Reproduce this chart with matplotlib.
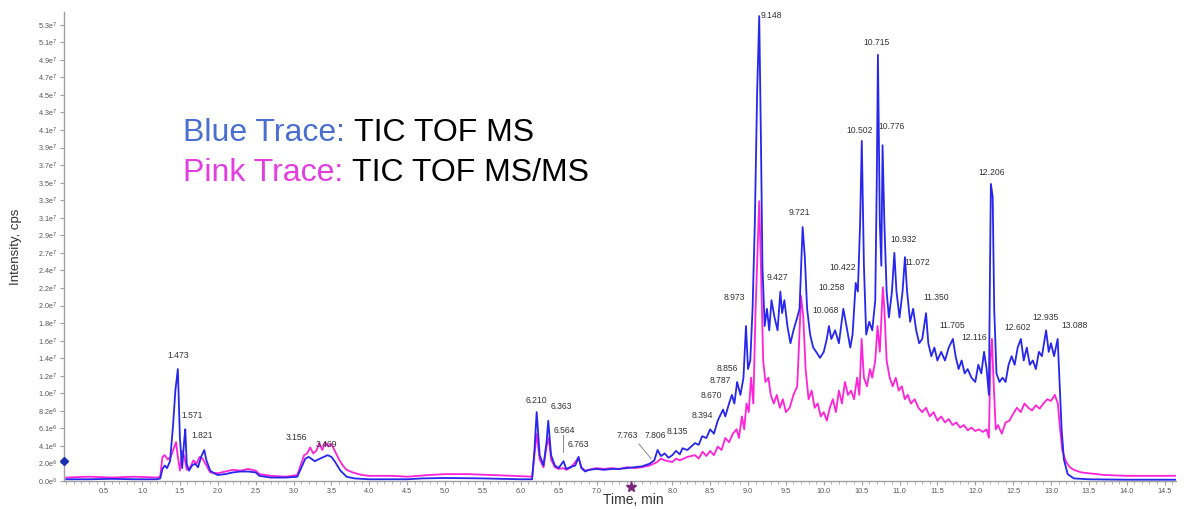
import matplotlib
matplotlib.use("Agg")
import matplotlib.pyplot as plt
from matplotlib.ticker import FixedLocator, MultipleLocator, FuncFormatter
import numpy as np

# ---------------- data (intensity in units of 1e6 cps) ----------------
blue_t = [0.00, 0.30, 0.60, 0.90, 1.20, 1.24, 1.27, 1.30, 1.33, 1.37, 1.41, 1.44, 1.473, 1.50, 1.53, 1.555,
          1.571, 1.59, 1.62, 1.66, 1.70, 1.74, 1.78, 1.821, 1.85, 1.90, 1.95, 2.00, 2.10, 2.20, 2.30, 2.40,
          2.50, 2.55, 2.70, 2.90, 3.05, 3.10, 3.156, 3.20, 3.28, 3.35, 3.45, 3.50, 3.55, 3.62, 3.70, 3.80,
          4.00, 4.50, 4.70, 5.00, 5.50, 6.00, 6.15, 6.18, 6.21, 6.25, 6.30, 6.34, 6.363, 6.40, 6.45, 6.50,
          6.54, 6.564, 6.60, 6.65, 6.72, 6.763, 6.80, 6.85, 6.90, 7.00, 7.10, 7.20, 7.30, 7.40, 7.50, 7.60,
          7.70, 7.763, 7.806, 7.85, 7.90, 7.95, 8.00, 8.05, 8.10, 8.135, 8.20, 8.25, 8.30, 8.35, 8.394, 8.45,
          8.50, 8.55, 8.60, 8.67, 8.70, 8.75, 8.787, 8.82, 8.856, 8.90, 8.94, 8.973, 9.00, 9.03, 9.06, 9.09,
          9.12, 9.148, 9.17, 9.19, 9.22, 9.25, 9.28, 9.31, 9.35, 9.39, 9.427, 9.45, 9.48, 9.52, 9.56, 9.60,
          9.65, 9.68, 9.721, 9.75, 9.78, 9.82, 9.86, 9.90, 9.95, 10.00, 10.04, 10.068, 10.10, 10.15, 10.20,
          10.258, 10.30, 10.35, 10.38, 10.422, 10.45, 10.48, 10.502, 10.53, 10.56, 10.60, 10.64, 10.68,
          10.70, 10.715, 10.74, 10.76, 10.776, 10.80, 10.83, 10.86, 10.90, 10.932, 10.96, 11.00, 11.04,
          11.072, 11.10, 11.14, 11.18, 11.22, 11.26, 11.30, 11.35, 11.38, 11.42, 11.46, 11.50, 11.55, 11.60,
          11.65, 11.705, 11.74, 11.78, 11.82, 11.86, 11.90, 11.95, 12.00, 12.04, 12.08, 12.116, 12.15,
          12.18, 12.195, 12.206, 12.23, 12.25, 12.28, 12.32, 12.36, 12.40, 12.44, 12.48, 12.52, 12.56,
          12.602, 12.64, 12.68, 12.72, 12.76, 12.80, 12.84, 12.88, 12.935, 12.97, 13.00, 13.04, 13.088,
          13.11, 13.14, 13.17, 13.22, 13.30, 13.50, 14.00, 14.65]
blue_v = [0.2, 0.2, 0.25, 0.2, 0.2, 0.3, 1.4, 1.8, 1.5, 2.3, 6.5, 10.5, 13.0, 5.0, 1.5, 4.5,
          6.0, 2.0, 1.2, 1.8, 2.0, 1.6, 2.8, 3.6, 2.4, 1.2, 0.9, 0.7, 0.8, 1.0, 1.1, 1.1,
          1.0, 0.6, 0.4, 0.4, 0.5, 1.5, 2.6, 2.8, 2.3, 2.6, 3.0, 2.8, 2.2, 1.2, 0.5, 0.3,
          0.2, 0.2, 0.3, 0.35, 0.3, 0.2, 0.2, 3.5, 8.0, 3.0, 1.8, 4.5, 7.0, 3.0, 1.8, 1.5,
          2.0, 2.3, 1.4, 1.6, 1.8, 2.8, 1.5, 1.1, 1.3, 1.4, 1.3, 1.4, 1.4, 1.5, 1.6, 1.7,
          2.0, 2.4, 3.6, 2.9, 3.2, 2.7, 3.0, 3.5, 3.1, 3.8, 3.6, 4.0, 4.4, 4.2, 5.2, 5.0,
          6.0, 5.5, 7.0, 8.3, 7.5, 9.0, 10.0, 9.0, 11.5, 10.0, 12.0, 18.0, 13.0, 14.0, 20.0, 30.0,
          45.0, 54.0, 40.0, 25.0, 18.0, 20.0, 17.5, 21.0, 19.0, 17.5, 22.0, 19.5, 21.0, 18.0, 16.0, 17.5,
          19.0, 20.0, 29.5, 26.0, 20.0, 17.0, 15.5, 15.0, 14.3, 15.0, 16.5, 18.0, 16.5, 17.5, 16.0,
          20.0, 18.0, 15.5, 17.0, 23.0, 22.0, 30.0, 39.5, 25.0, 17.0, 18.5, 17.5, 21.0,
          35.0, 49.5, 30.0, 25.0, 39.0, 30.0, 22.0, 19.0, 22.0, 26.5, 22.0, 19.0, 22.0,
          26.0, 22.0, 18.5, 20.0, 17.5, 16.0, 16.5, 19.5, 16.0, 14.5, 15.5, 14.0, 15.0, 14.0,
          15.5, 16.5, 14.5, 13.0, 14.0, 12.5, 13.0, 12.0, 11.5, 13.5, 12.5, 15.0, 13.0,
          10.0, 25.0, 34.5, 33.0, 20.0, 12.5, 11.5, 12.0, 11.5, 13.5, 14.5, 13.5, 15.5,
          16.5, 14.0, 15.5, 13.5, 14.0, 13.0, 15.0, 14.5, 17.5, 15.0, 16.0, 14.5, 16.5,
          12.0, 6.0, 2.5, 0.8, 0.3, 0.2, 0.15, 0.15]

pink_t = [0.00, 0.30, 0.60, 0.90, 1.20, 1.24, 1.27, 1.30, 1.34, 1.38, 1.42, 1.45, 1.47, 1.50, 1.53, 1.56,
          1.59, 1.63, 1.68, 1.72, 1.76, 1.80, 1.85, 1.90, 2.00, 2.10, 2.20, 2.30, 2.40, 2.50, 2.55, 2.70,
          2.90, 3.05, 3.10, 3.14, 3.18, 3.22, 3.26, 3.30, 3.34, 3.38, 3.42, 3.46, 3.50, 3.55, 3.60, 3.65,
          3.70, 3.78, 3.90, 4.00, 4.30, 4.50, 4.80, 5.00, 5.30, 5.60, 5.90, 6.15, 6.18, 6.21, 6.25, 6.30,
          6.34, 6.37, 6.40, 6.45, 6.50, 6.56, 6.60, 6.65, 6.72, 6.76, 6.80, 6.85, 6.90, 7.00, 7.10, 7.20,
          7.30, 7.40, 7.50, 7.60, 7.70, 7.80, 7.85, 7.90, 8.00, 8.05, 8.10, 8.20, 8.30, 8.35, 8.40, 8.45,
          8.50, 8.55, 8.60, 8.65, 8.70, 8.75, 8.80, 8.85, 8.88, 8.92, 8.95, 8.98, 9.01, 9.04, 9.07, 9.10,
          9.13, 9.148, 9.17, 9.20, 9.23, 9.27, 9.30, 9.34, 9.38, 9.42, 9.46, 9.50, 9.55, 9.60, 9.65, 9.70,
          9.73, 9.76, 9.80, 9.84, 9.88, 9.92, 9.96, 10.00, 10.04, 10.08, 10.12, 10.16, 10.20, 10.24, 10.28,
          10.32, 10.36, 10.40, 10.44, 10.47, 10.50, 10.53, 10.57, 10.61, 10.64, 10.68, 10.71, 10.74, 10.78,
          10.80, 10.83, 10.87, 10.91, 10.95, 10.99, 11.03, 11.07, 11.11, 11.15, 11.20, 11.25, 11.30, 11.35,
          11.40, 11.45, 11.50, 11.55, 11.60, 11.65, 11.70, 11.75, 11.80, 11.85, 11.90, 11.95, 12.00, 12.05,
          12.10, 12.15, 12.18, 12.20, 12.22, 12.24, 12.27, 12.30, 12.35, 12.40, 12.45, 12.50, 12.55, 12.60,
          12.65, 12.70, 12.75, 12.80, 12.85, 12.90, 12.95, 13.00, 13.05, 13.09, 13.12, 13.15, 13.20, 13.25,
          13.30, 13.40, 13.50, 13.70, 14.00, 14.30, 14.65]
pink_v = [0.4, 0.5, 0.4, 0.5, 0.4, 0.5, 2.8, 3.0, 2.5, 2.8, 3.8, 4.5, 3.0, 1.2, 3.5, 2.8,
          1.3, 1.5, 2.4, 2.0, 2.8, 2.6, 1.8, 1.0, 0.9, 1.1, 1.3, 1.2, 1.4, 1.2, 0.8, 0.6,
          0.5, 0.7, 2.0, 3.0, 3.2, 3.9, 3.2, 3.5, 4.4, 3.6, 4.5, 4.0, 4.3, 3.4, 2.5, 1.8,
          1.3, 1.0, 0.7, 0.6, 0.6, 0.5, 0.7, 0.8, 0.8, 0.7, 0.6, 0.5, 3.0, 5.5, 2.5, 1.6,
          4.0, 5.0, 2.5, 1.6, 1.4, 1.5, 1.3, 1.5, 2.2, 2.7, 1.6, 1.2, 1.3, 1.5, 1.4, 1.5,
          1.4, 1.6, 1.5, 1.6, 1.8, 2.2, 2.6, 2.4, 2.2, 2.6, 2.4, 2.8, 3.0, 2.6, 3.4, 2.9,
          3.5, 3.0, 4.0, 3.6, 5.0, 4.5, 5.5, 6.0, 5.0, 7.5, 6.0, 9.0, 8.0, 12.0, 9.0, 20.0,
          28.0, 32.5, 25.0, 14.0, 11.5, 12.0, 10.0, 9.0, 10.0, 8.5, 9.5, 8.0, 8.5, 10.0, 11.0, 21.5,
          19.0, 13.0, 9.5, 10.5, 8.5, 9.0, 7.5, 8.0, 7.0, 8.5, 9.5, 8.0, 10.5, 9.0, 11.5,
          10.0, 10.5, 9.5, 12.0, 10.0, 16.5, 12.0, 11.0, 13.0, 12.0, 14.0, 18.0, 15.0, 22.5,
          20.0, 14.0, 12.0, 11.0, 12.0, 10.5, 11.0, 9.5, 10.0, 9.0, 9.5, 8.5, 8.0, 8.5,
          7.5, 8.0, 7.0, 7.5, 6.8, 7.2, 6.5, 6.8, 6.2, 6.5, 5.9, 6.2, 5.8, 6.0,
          5.7, 6.0, 5.0, 14.0, 16.5, 12.0, 6.0, 6.5, 5.5, 6.8, 7.0, 7.8, 8.5, 8.0,
          9.0, 8.5, 8.2, 8.8, 8.4, 9.0, 9.5, 9.3, 10.0, 9.0, 6.0, 3.5, 2.2, 1.6,
          1.3, 1.0, 0.9, 0.7, 0.6, 0.6, 0.6]

peak_labels = ["1.473", "1.571", "1.821", "3.156", "3.469", "6.210", "6.363", "6.564", "6.763",
               "7.763", "7.806", "8.135", "8.394", "8.670", "8.787", "8.856", "8.973", "9.148",
               "9.427", "9.721", "10.068", "10.258", "10.422", "10.502", "10.715", "10.776",
               "10.932", "11.072", "11.350", "11.705", "12.116", "12.206", "12.602", "12.935", "13.088"]

y_tick_labels = ["0.0e0", "2.0e6", "4.1e6", "6.1e6", "8.2e6", "1.0e7", "1.2e7", "1.4e7", "1.6e7",
                 "1.8e7", "2.0e7", "2.2e7", "2.4e7", "2.7e7", "2.9e7", "3.1e7", "3.3e7", "3.5e7",
                 "3.7e7", "3.9e7", "4.1e7", "4.3e7", "4.5e7", "4.7e7", "4.9e7", "5.1e7", "5.3e7"]
x_tick_values = [0.5, 1.0, 1.5, 2.0, 2.5, 3.0, 3.5, 4.0, 4.5, 5.0, 5.5, 6.0, 6.5, 7.0,
                 8.0, 8.5, 9.0, 9.5, 10.0, 10.5, 11.0, 11.5, 12.0, 12.5, 13.0, 13.5, 14.0, 14.5]

# ---------------- layout (label placement, in data units) ----------------
label_pos = [(1.473, 14.1), (1.66, 7.1), (1.80, 4.8), (3.04, 4.5), (3.43, 3.7), (6.21, 8.8),
             (6.53, 8.1), (6.58, 5.3), (6.76, 3.7), (7.41, 4.8), (7.77, 4.8), (8.07, 5.2),
             (8.40, 7.1), (8.52, 9.4), (8.64, 11.2), (8.73, 12.5), (8.82, 20.8), (9.31, 53.5),
             (9.39, 23.1), (9.68, 30.7), (10.03, 19.3), (10.10, 22.0), (10.25, 24.3), (10.47, 40.2),
             (10.70, 50.4), (10.89, 40.6), (11.06, 27.5), (11.24, 24.9), (11.49, 20.8), (11.70, 17.5),
             (11.98, 16.1), (12.21, 35.3), (12.56, 17.3), (12.93, 18.5), (13.31, 17.5)]

plt.rcParams['font.family'] = ['Liberation Sans', 'DejaVu Sans']

W, H, DPI = 1188, 509, 100
fig = plt.figure(figsize=(W / DPI, H / DPI), dpi=DPI)
AX_L, AX_R, AX_B, AX_T = 64, 1176, 28, 497
ax = fig.add_axes([AX_L / W, AX_B / H, (AX_R - AX_L) / W, (AX_T - AX_B) / H])

BLUE = '#2626ee'
PINK = '#ff22d8'
ax.plot(pink_t, np.array(pink_v) * 1e6, color=PINK, lw=1.3, zorder=2)
ax.plot(blue_t, np.array(blue_v) * 1e6, color=BLUE, lw=1.3, zorder=3)

ax.set_xlim(-0.03, 14.65)
ymax_tick = 5.3e7
ax.set_ylim(0, ymax_tick * (479 - 10) / (479 - 22.7))

yt = [ymax_tick * k / 26 for k in range(27)]
ax.yaxis.set_major_locator(FixedLocator(yt))

def yfmt(v, pos):
    s = y_tick_labels[pos] if pos is not None and pos < len(y_tick_labels) else ""
    if not s:
        return ""
    m, e = s.split("e")
    return m + "e$^{" + e + "}$"

ax.yaxis.set_major_formatter(FuncFormatter(yfmt))
ax.xaxis.set_major_locator(FixedLocator(x_tick_values))
ax.xaxis.set_major_formatter(FuncFormatter(lambda v, p: f"{v:.1f}"))
ax.xaxis.set_minor_locator(MultipleLocator(0.1))

for s in ['top', 'right']:
    ax.spines[s].set_visible(False)
for s in ['left', 'bottom']:
    ax.spines[s].set_color('#a0a0a0')
    ax.spines[s].set_linewidth(1.0)
ax.tick_params(axis='both', which='major', length=3, width=0.8, color='#a0a0a0',
               labelsize=5.2, labelcolor='#555555', pad=2)
ax.tick_params(axis='x', which='minor', length=2, width=0.6, color='#a0a0a0')

ax.set_xlabel("Time, min", fontsize=10, color='#333333')
ax.xaxis.set_label_coords((633 - AX_L) / (AX_R - AX_L), -12 / (AX_T - AX_B))
ax.xaxis.label.set_va('top')
ax.set_ylabel("Intensity, cps", fontsize=9.5, color='#333333')
ax.yaxis.set_label_coords(-(AX_L - 16) / (AX_R - AX_L), 0.5)
ax.yaxis.label.set_va('center')

for txt, (lx, ly) in zip(peak_labels, label_pos):
    ax.text(lx, ly * 1e6, txt, fontsize=6.2, color='#333333', ha='center', va='bottom', zorder=5)

# leader lines
ax.plot([7.56, 7.72], [4.3e6, 2.6e6], color='#777777', lw=0.6, zorder=4)
ax.plot([6.56, 6.56], [3.4e6, 5.4e6], color='#777777', lw=0.6, zorder=4)

# markers on axes
ax.plot([-0.03], [2.3e6], marker='D', color='#1a2fb0', ms=4, clip_on=False, zorder=6)
ax.plot([7.46], [-0.7e6], marker='*', color='#7a2a7a', ms=8, clip_on=False, zorder=6)

# overlay text
FS = 23
t1 = fig.text(183 / W, 1 - 133 / H, "Blue Trace:", fontsize=FS, color='#4a6fd0', va='center')
t2 = fig.text(183 / W, 1 - 173 / H, "Pink Trace:", fontsize=FS, color='#e23ee0', va='center')
fig.canvas.draw()
r = fig.canvas.get_renderer()
for t, rest in [(t1, "TIC TOF MS"), (t2, "TIC TOF MS/MS")]:
    bb = t.get_window_extent(renderer=r)
    x0 = (bb.x1 + 9) / W
    fig.text(x0, t.get_position()[1], rest, fontsize=FS, color='black', va='center')

fig.savefig("out.png", dpi=DPI)
